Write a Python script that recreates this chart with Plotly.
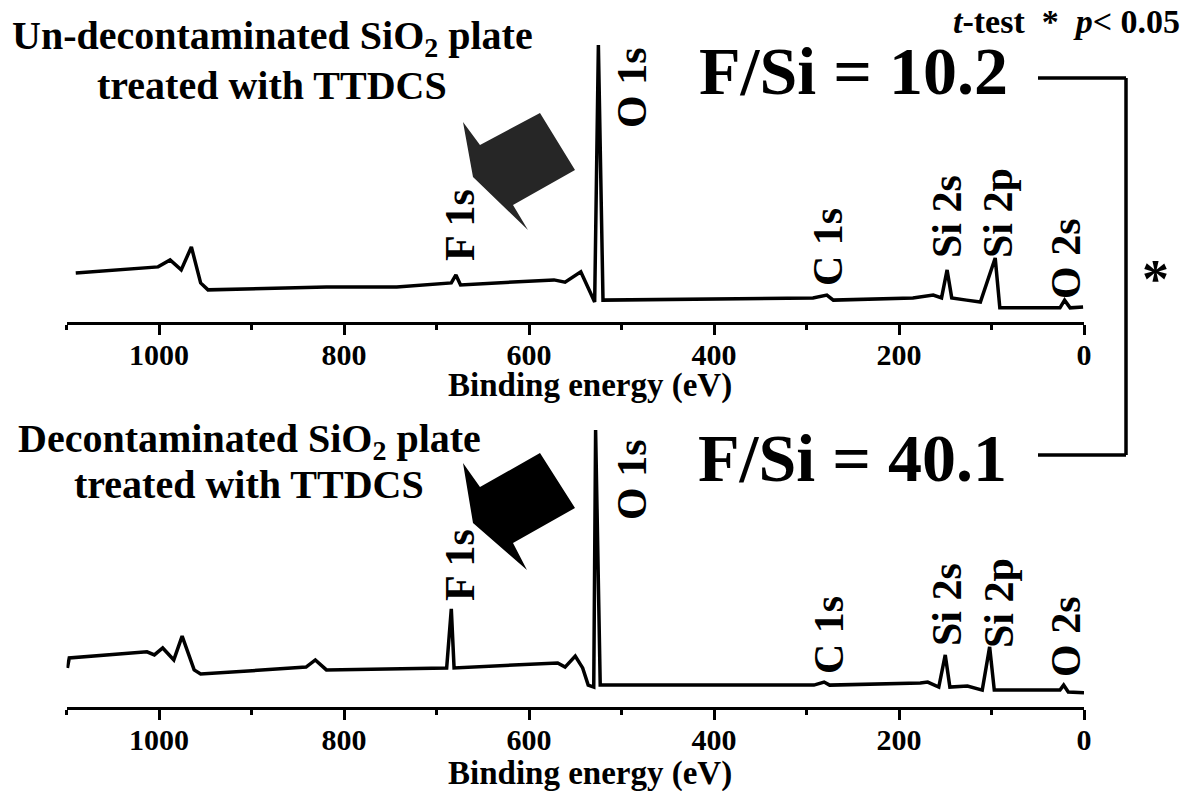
import plotly.graph_objects as go

# ---------------- data ----------------
# binding energy (eV) and intensity (a.u., O 1s peak = 100)
top_energy = [1090, 1001, 988, 976, 965, 955, 947, 819, 743, 684, 679, 674, 573, 561, 544, 532, 529,
              525, 520, 293, 278, 271, 185, 163, 154, 148, 143, 127, 112, 96, 91, 26, 21, 15, 1]
top_intensity = [17.7, 19.9, 22.4, 18.8, 27.1, 14.1, 11.6, 12.6, 12.6, 14.1, 17.0, 13.4, 15.2, 14.4, 18.1, 9.0, 7.2,
                 100.0, 7.9, 8.7, 9.7, 7.9, 8.7, 9.7, 8.7, 18.8, 8.7, 7.9, 7.2, 23.1, 5.1, 5.1, 7.9, 5.1, 5.4]

bot_energy = [1099, 1097, 1013, 1005, 996, 984, 975, 962, 955, 858, 841, 831, 819, 689, 684, 681, 569, 561,
              550, 542, 536, 530, 528, 523, 292, 281, 275, 177, 169, 157, 150, 145, 126, 110, 102, 97,
              26, 22, 17, 0]
bot_intensity = [14.1, 17.7, 19.9, 18.8, 21.3, 17.0, 25.6, 13.4, 11.9, 14.1, 14.4, 17.0, 13.4, 14.1, 35.4, 14.1,
                 15.9, 14.4, 18.4, 14.1, 7.9, 7.2, 100.0, 7.9, 7.9, 9.0, 7.9, 8.7, 9.0, 7.2, 18.8, 7.2, 7.6, 6.1,
                 21.7, 6.1, 6.1, 7.9, 5.4, 5.1]

peak_labels = ["F 1s", "O 1s", "C 1s", "Si 2s", "Si 2p", "O 2s"]
panel_titles = [["Un-decontaminated SiO<sub>2</sub> plate", "treated with TTDCS"],
                ["Decontaminated SiO<sub>2</sub> plate", "treated with TTDCS"]]
ratio_texts = ["F/Si = 10.2", "F/Si = 40.1"]
x_title = "Binding energy (eV)"
stat_text = "<i>t</i>-test  *  <i>p</i>< 0.05"

# ---------------- layout helpers ----------------
W, H = 1192, 791
def fx(p):
    return p / W
def fy(p):
    return 1 - p / H

FONT = "Liberation Serif"
PXU = 2.77  # pixels per intensity unit
top_axis_px, bot_axis_px = 322, 707

fig = go.Figure()
fig.add_trace(go.Scatter(x=top_energy, y=top_intensity, mode="lines",
                         line=dict(color="black", width=3.5), xaxis="x", yaxis="y", showlegend=False))
fig.add_trace(go.Scatter(x=bot_energy, y=bot_intensity, mode="lines",
                         line=dict(color="black", width=3.5), xaxis="x2", yaxis="y2", showlegend=False))

xdom = [fx(66.5), fx(1084)]
def xaxis_cfg(anchor):
    return dict(domain=xdom, range=[1100, 0], anchor=anchor, showline=True, linewidth=3,
                linecolor="black", ticks="outside", ticklen=10, tickwidth=3, tickcolor="black",
                tick0=0, dtick=200, showgrid=False, zeroline=False, ticklabelstandoff=-6,
                minor=dict(dtick=100, tick0=0, ticks="outside", ticklen=5, tickwidth=3, tickcolor="black"),
                tickfont=dict(family=FONT, size=30, color="black", weight=700))

def yaxis_cfg(axis_px, anchor):
    return dict(domain=[fy(axis_px), fy(axis_px - 102 * PXU)], range=[0, 102], visible=False,
                anchor=anchor)

fig.update_layout(
    width=W, height=H, margin=dict(l=0, r=0, t=0, b=0, autoexpand=False),
    paper_bgcolor="white", plot_bgcolor="white",
    xaxis=xaxis_cfg("y"), yaxis=yaxis_cfg(top_axis_px, "x"),
    xaxis2=xaxis_cfg("y2"), yaxis2=yaxis_cfg(bot_axis_px, "x2"),
)

ann = []
def text(x, y, s, size, angle=0, xanchor="center"):
    ann.append(dict(x=fx(x), y=fy(y), xref="paper", yref="paper", text=s, showarrow=False,
                    textangle=angle, xanchor=xanchor, yanchor="middle",
                    font=dict(family=FONT, size=size, color="black", weight=700)))

# panel titles
text(272, 38, panel_titles[0][0], 40)
text(272, 85, panel_titles[0][1], 40)
text(249, 441, panel_titles[1][0], 40)
text(249, 484, panel_titles[1][1], 40)

# ratios
text(853, 71, ratio_texts[0], 68)
text(852, 458, ratio_texts[1], 68)

# stats
text(1182, 22, stat_text, 34, xanchor="right")
text(1155, 279, "*", 54)

# axis titles
text(590, 385, x_title, 33)
text(590, 773, x_title, 33)

# peak labels (top, bottom)
top_pos = [(460, 225), (632, 88), (828, 247), (947, 217), (998, 213), (1066, 259)]
bot_pos = [(460, 565), (632, 480), (829, 635), (947, 605), (999, 603), (1066, 637)]
for lab, (x, y) in zip(peak_labels, top_pos):
    text(x, y, lab, 42, angle=-90)
for lab, (x, y) in zip(peak_labels, bot_pos):
    text(x, y, lab, 42, angle=-90)

fig.update_layout(annotations=ann)

# arrows and significance bracket
def path(pts):
    return "M " + " L ".join(f"{fx(a):.5f},{fy(b):.5f}" for a, b in pts) + " Z"

arrow_top = [(463, 122), (480, 145), (540, 113), (575, 170), (513, 205), (528, 230), (473, 177)]
arrow_bot = [(463, 463), (480, 487), (540, 453), (575, 508), (513, 543), (527, 570), (473, 523)]
shapes = [
    dict(type="path", xref="paper", yref="paper", path=path(arrow_top), fillcolor="#262626",
         line=dict(width=0)),
    dict(type="path", xref="paper", yref="paper", path=path(arrow_bot), fillcolor="black",
         line=dict(width=0)),
]
bracket = [((1038, 78), (1126, 78)), ((1126, 78), (1126, 455)), ((1038, 455), (1126, 455))]
for (a, b), (c, d) in bracket:
    shapes.append(dict(type="line", xref="paper", yref="paper", x0=fx(a), y0=fy(b), x1=fx(c), y1=fy(d),
                       line=dict(color="black", width=3.5)))
fig.update_layout(shapes=shapes)

fig.write_html("out.html", config={"displayModeBar": False},
               post_script="document.body.style.margin='0px';")
